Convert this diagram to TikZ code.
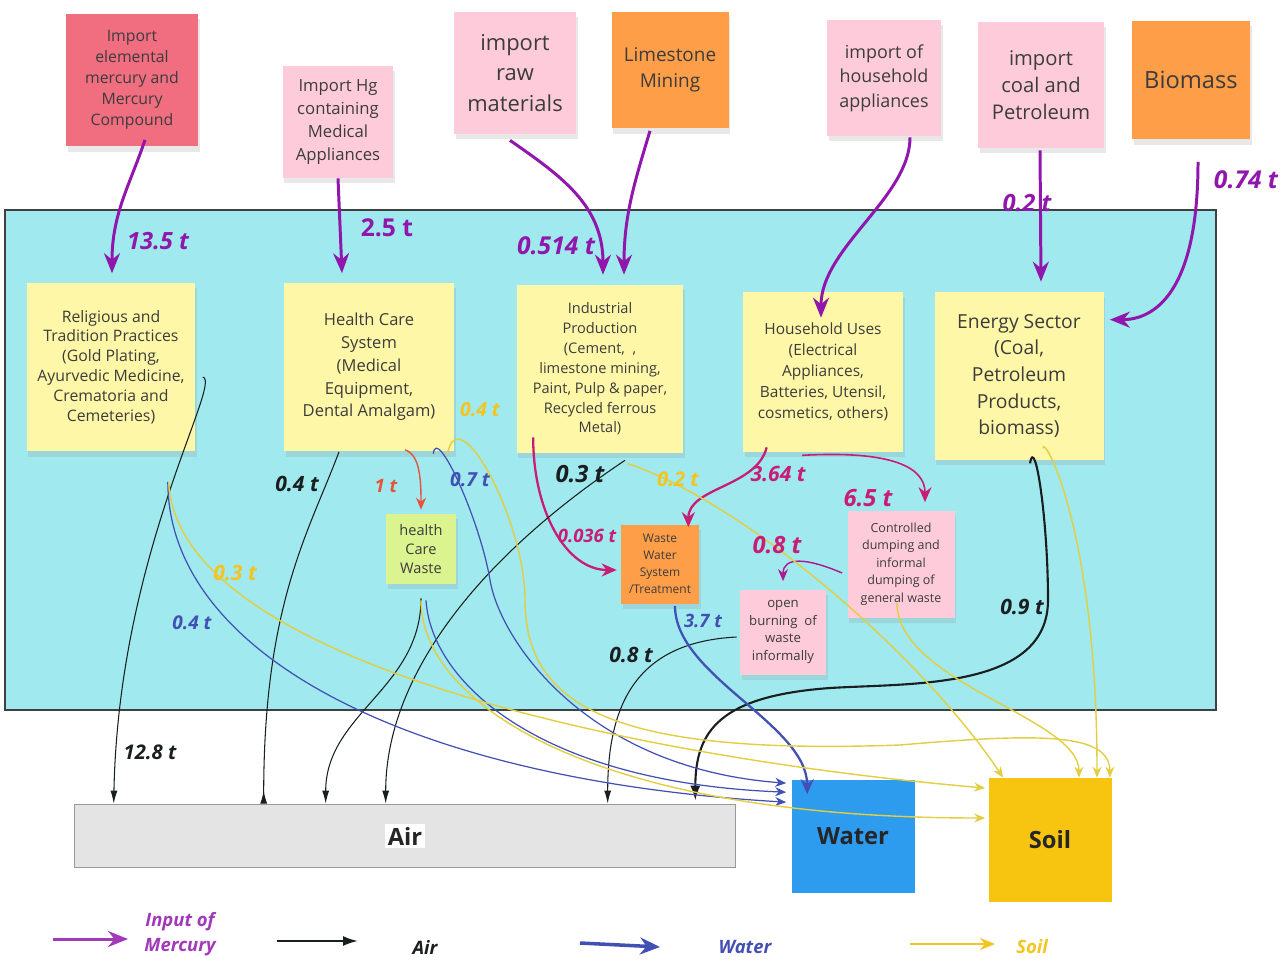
\documentclass[tikz,border=0pt]{standalone}
\usepackage{fontspec}
\setmainfont{Open Sans}
\usepackage{tikz}
\usetikzlibrary{arrows.meta,calc,shadows}

\definecolor{basin}{RGB}{160,233,238}
\definecolor{noteyellow}{RGB}{255,247,168}
\definecolor{notepink}{RGB}{254,203,218}
\definecolor{notered}{RGB}{240,110,128}
\definecolor{noteorange}{RGB}{255,158,72}
\definecolor{notelime}{RGB}{220,244,144}
\definecolor{airgray}{RGB}{228,228,228}
\definecolor{waterblue}{RGB}{45,155,238}
\definecolor{soilgold}{RGB}{247,196,16}
\definecolor{hgpurple}{RGB}{145,22,172}
\definecolor{hgmagenta}{RGB}{200,28,118}
\definecolor{hgred}{RGB}{228,84,60}
\definecolor{airblack}{RGB}{25,30,30}
\definecolor{flowblue}{RGB}{66,80,180}
\definecolor{flowyellow}{RGB}{226,206,64}
\definecolor{labelgold}{RGB}{245,196,30}
\definecolor{inktext}{RGB}{60,60,60}

\newcommand\setfs[2]{\fontsize{#1}{#2}\selectfont}

\begin{document}
\begin{tikzpicture}[
    x=0.02cm, y=-0.02cm,
    note/.style={rectangle, align=center, inner sep=2pt, text=inktext, drop shadow={shadow xshift=1pt, shadow yshift=-3pt, opacity=0.18}},
    src/.style={note, fill=notepink},
    sector/.style={note, fill=noteyellow, minimum width=3.38cm, minimum height=3.38cm},
    sink/.style={rectangle, font=\bfseries\setfs{13.5}{16}, text=black!85},
    qty/.style={font=\bfseries\itshape\setfs{12}{14}},
    legend/.style={font=\bfseries\itshape\setfs{10.5}{14}, align=center},
    hgin/.style={-{Stealth[length=4mm,width=3.2mm]}, line width=1.7pt, draw=hgpurple},
    hgmid/.style={-{Stealth[length=3mm,width=2.6mm]}, line width=1.3pt, draw=hgmagenta},
    toair/.style={-{Latex[length=2.6mm,width=1.4mm]}, line width=0.6pt, draw=airblack},
    towater/.style={-{Stealth[length=2.2mm,width=1.8mm]}, line width=0.7pt, draw=flowblue},
    tosoil/.style={-{Stealth[length=2.2mm,width=1.8mm]}, line width=0.8pt, draw=flowyellow}
]
    \useasboundingbox (0,0) rectangle (1287,967);

    \node [rectangle, fill=basin, draw=black!75, line width=1pt, minimum width=24.22cm, minimum height=10cm] (basin) at (610.5,460) {};

    % sources
    \node [note, fill=notered, minimum width=2.64cm, minimum height=2.66cm, font=\setfs{9}{11.9}] (imphg) at (132,80) {Import\\elemental\\mercury and\\Mercury\\Compound};
    \node [src, minimum width=2.22cm, minimum height=2.24cm, font=\setfs{9.5}{13}] (impmed) at (338,122) {Import Hg\\containing\\Medical\\Appliances};
    \node [src, minimum width=2.44cm, minimum height=2.44cm, font=\setfs{12.5}{17.6}] (impraw) at (515,73) {import\\raw\\materials};
    \node [note, fill=noteorange, minimum width=2.34cm, minimum height=2.34cm, font=\setfs{10.8}{14.7}] (lime) at (670,70) {Limestone\\Mining};
    \node [src, minimum width=2.28cm, minimum height=2.32cm, font=\setfs{10.2}{14}] (imphh) at (884,78) {import of\\household\\appliances};
    \node [src, minimum width=2.52cm, minimum height=2.52cm, font=\setfs{11.5}{15.3}] (impcoal) at (1041,85) {import\\coal and\\Petroleum};
    \node [note, fill=noteorange, minimum width=2.36cm, minimum height=2.38cm, font=\setfs{13.5}{17}] (bio) at (1191,80) {Biomass};

    % sectors
    \node [sector, font=\setfs{9}{11.3}] (rel) at (111,367) {Religious and\\Tradition Practices\\(Gold Plating,\\Ayurvedic Medicine,\\Crematoria and\\Cemeteries)};
    \node [sector, minimum width=3.4cm, font=\setfs{9.4}{13}] (hc) at (369,367) {Health Care\\System\\(Medical\\Equipment,\\Dental Amalgam)};
    \node [sector, minimum width=3.34cm, minimum height=3.36cm, font=\setfs{8.3}{11.3}] (ind) at (600,369) {Industrial\\Production\\(Cement,~ ,\\limestone mining,\\Paint, Pulp \& paper,\\Recycled ferrous\\Metal)};
    \node [sector, minimum width=3.2cm, minimum height=3.2cm, font=\setfs{8.8}{11.9}] (hh) at (823,372) {Household Uses\\(Electrical\\Appliances,\\Batteries, Utensil,\\cosmetics, others)};
    \node [sector, minimum height=3.36cm, font=\setfs{11}{15.2}] (en) at (1019,376) {Energy Sector\\(Coal,\\Petroleum\\Products,\\biomass)};

    % waste
    \node [note, fill=notelime, minimum width=1.4cm, minimum height=1.4cm, font=\setfs{8.3}{11}] (hcw) at (421,549) {health\\Care\\Waste};
    \node [note, fill=noteorange, minimum width=1.56cm, minimum height=1.58cm, font=\setfs{6.8}{9.6}] (ww) at (660,564) {Waste\\Water\\System\\/Treatment};
    \node [src, minimum width=1.72cm, minimum height=1.7cm, font=\setfs{7.5}{10.2}] (ob) at (783,632) {open\\burning~ of\\waste\\informally};
    \node [src, minimum width=2.14cm, minimum height=2.14cm, font=\setfs{7.1}{9.9}] (cd) at (901,564) {Controlled\\dumping and\\informal\\dumping of\\general waste};

    % sinks
    \node [sink, fill=airgray, draw=black!40, line width=1pt, minimum width=13.22cm, minimum height=1.26cm] (air) at (405,836) {\setlength\fboxsep{1.5pt}\colorbox{white}{Air}};
    \node [sink, fill=waterblue, minimum width=2.46cm, minimum height=2.26cm] (water) at (853,836) {Water};
    \node [sink, fill=soilgold, minimum width=2.46cm, minimum height=2.48cm] (soil) at (1050,840) {Soil};

    % inputs of mercury
    \draw [hgin] ($(imphg.south)+(13,-7)$) .. controls +(-15,45) and +(0,-60) .. ($(rel.north)+(1,-9)$);
    \draw [hgin] (impmed.south) -- ($(hc.north)+(-27,-9)$);
    \draw [hgin] ($(impraw.south)+(-5,6)$) .. controls +(50,35) and +(0,-70) .. ($(ind.north)+(3,-10)$);
    \draw [hgin] ($(lime.south)+(-20,2)$) .. controls +(-15,50) and +(0,-60) .. ($(ind.north)+(24,-10)$);
    \draw [hgin] ($(imphh.south)+(26,1)$) .. controls +(0,60) and +(0,-70) .. ($(hh.north)+(-2,26)$);
    \draw [hgin] ($(impcoal.south)+(-1,2)$) -- ($(en.north)+(22,-10)$);
    \draw [hgin] ($(bio.south)+(7,22)$) .. controls +(0,130) and +(45,0) .. ($(en.north east)+(6,28)$);

    % transfers
    \draw [hgmid] ($(ind.south west)+(17,-16)$) .. controls +(0,75) and +(-50,0) .. ($(ww.west)+(-4,6)$);
    \draw [hgmid] ($(hh.south west)+(24,-5)$) .. controls +(-10,40) and +(0,-40) .. ($(ww.north east)+(-11,3)$);
    \draw [hgmid, line width=0.9pt] ($(hh.south)+(-21,3)$) .. controls +(90,-5) and +(0,-35) .. ($(cd.north)+(24,-8)$);
    \draw [hgmid, line width=0.8pt, draw=hgpurple!50!hgmagenta, -{Stealth[length=2.4mm,width=2mm]}] ($(cd.west)+(-5,9)$) .. controls +(-35,-15) and +(0,-25) .. ($(ob.north)+(0,-8)$);
    \draw [-{Stealth[length=2.4mm,width=2mm]}, line width=0.8pt, draw=hgred] ($(hc.south)+(36,-2)$) .. controls +(15,5) and +(0,-30) .. ($(hcw.north)+(0,-4)$);

    % to air
    \draw [toair] ($(rel.east)+(7,10)$) .. controls +(20,5) and +(5,-250) .. ($(air.north west)+(40,0)$);
    \draw [toair, -{Latex[length=2.6mm,width=1.4mm,reversed]}] ($(hc.south)+(-30,0)$) .. controls +(-30,80) and +(0,-200) .. ($(air.north west)+(190,0)$);
    \draw [toair] ($(hcw.south)+(0,14)$) .. controls +(0,90) and +(0,-90) .. ($(air.north west)+(252,0)$);
    \draw [toair] ($(ind.south)+(25,7)$) .. controls +(-150,100) and +(0,-125) .. ($(air.north west)+(312,0)$);
    \draw [toair] ($(ob.west)+(-3,5)$) .. controls +(-100,5) and +(0,-100) .. ($(air.north west)+(534,0)$);
    \draw [toair, line width=1.2pt, -{Latex[length=3mm,width=2mm]}] ($(en.south)+(11,3)$) .. controls +(5,-30) and +(0,-80) .. (1048,600) .. controls +(0,90) and +(80,-5) .. (830,688) .. controls +(-110,8) and +(0,-70) .. ($(air.north east)+(-41,-3)$);

    % to water
    \draw [towater] ($(rel.south east)+(-28,30)$) .. controls +(0,168) and +(-387,-23) .. ($(water.north west)+(-5,23)$);
    \draw [towater] ($(hc.south east)+(-21,2)$) .. controls +(3,-30) and +(-10,-60) .. (490,580) .. controls +(10,60) and +(-200,-15) .. ($(water.north west)+(-5,4)$);
    \draw [towater] ($(hcw.south)+(5,16)$) .. controls +(5,80) and +(-250,-10) .. ($(water.north west)+(-5,13)$);
    \draw [towater, line width=1.3pt, -{Stealth[length=3mm,width=2.6mm]}] ($(ww.south)+(15,2)$) .. controls +(0,70) and +(0,-70) .. ($(water.north west)+(16,15)$);

    % to soil
    \draw [tosoil] ($(rel.south east)+(-27,30)$) .. controls +(7,180) and +(-350,-30) .. ($(soil.west)+(-3,-52)$);
    \draw [tosoil] ($(hc.south east)+(-7,3)$) .. controls +(10,-60) and +(0,-80) .. (525,600) .. controls +(0,110) and +(-280,10) .. (900,745) .. controls +(140,-12) and +(0,-45) .. ($(soil.north east)+(-2,0)$);
    \draw [tosoil] ($(hcw.south)+(0,16)$) .. controls +(0,100) and +(-400,0) .. ($(soil.west)+(-3,-22)$);
    \draw [tosoil] ($(ind.south)+(27,10)$) .. controls +(120,40) and +(-80,-120) .. ($(soil.north west)+(15,0)$);
    \draw [tosoil] ($(cd.south)+(-4,-15)$) .. controls +(0,80) and +(0,-60) .. ($(soil.north)+(29,0)$);
    \draw [tosoil] ($(en.south)+(24,-12)$) .. controls +(0,-15) and +(0,-250) .. ($(soil.north)+(47,0)$);

    % quantities
    \node [qty, text=hgpurple, font=\bfseries\itshape\setfs{13.5}{15}] (q1) at (158,241) {13.5 t};
    \node [qty, text=hgpurple, font=\bfseries\setfs{14}{16}] (q2) at (387,228) {2.5 t};
    \node [qty, text=hgpurple, font=\bfseries\itshape\setfs{14}{16}] (q3) at (556,246) {0.514 t};
    \node [qty, text=hgpurple, font=\bfseries\itshape\setfs{13.5}{15}] (q4) at (1027,203) {0.2 t};
    \node [qty, text=hgpurple, font=\bfseries\itshape\setfs{14}{16}] (q5) at (1246,180) {0.74 t};
    \node [qty, text=hgmagenta, font=\bfseries\itshape\setfs{10.5}{12}] (q6) at (587,536) {0.036 t};
    \node [qty, text=hgmagenta] (q7) at (778,474) {3.64 t};
    \node [qty, text=hgmagenta, font=\bfseries\itshape\setfs{13.5}{15}] (q8) at (868,498) {6.5 t};
    \node [qty, text=hgmagenta, font=\bfseries\itshape\setfs{13.5}{15}] (q9) at (777,545) {0.8 t};
    \node [qty, text=hgred, font=\bfseries\itshape\setfs{10.5}{12}] (q10) at (386,486) {1 t};
    \node [qty, text=airblack, font=\bfseries\itshape\setfs{11.5}{13}] (q11) at (150,752) {12.8 t};
    \node [qty, text=airblack] (q12) at (297,484) {0.4 t};
    \node [qty, text=airblack, font=\bfseries\itshape\setfs{13.5}{15}] (q13) at (580,474) {0.3 t};
    \node [qty, text=airblack] (q14) at (631,655) {0.8 t};
    \node [qty, text=airblack] (q15) at (1022,607) {0.9 t};
    \node [qty, text=flowblue, font=\bfseries\itshape\setfs{10.8}{12}] (q16) at (192,623) {0.4 t};
    \node [qty, text=flowblue, font=\bfseries\itshape\setfs{11}{12}] (q17) at (470,480) {0.7 t};
    \node [qty, text=flowblue, font=\bfseries\itshape\setfs{10.5}{12}] (q18) at (703,621) {3.7 t};
    \node [qty, text=labelgold] (q19) at (235,573) {0.3 t};
    \node [qty, text=labelgold, font=\bfseries\itshape\setfs{11}{12}] (q20) at (480,410) {0.4 t};
    \node [qty, text=labelgold, font=\bfseries\itshape\setfs{11.5}{13}] (q21) at (678,479) {0.2 t};

    % legend
    \coordinate (k1a) at (53,939);
    \coordinate (k1b) at (128,939);
    \coordinate (k2a) at (277,941);
    \coordinate (k2b) at (358,941);
    \coordinate (k3a) at (580,943);
    \coordinate (k3b) at (660,947);
    \coordinate (k4a) at (910,944);
    \coordinate (k4b) at (995,944);
    \draw [hgin, draw=hgpurple!85!white] (k1a) -- (k1b);
    \draw [toair, line width=1.2pt, -{Latex[length=3mm,width=2mm]}] (k2a) -- (k2b);
    \draw [towater, line width=2pt, -{Stealth[length=4mm,width=3.4mm]}] (k3a) -- (k3b);
    \draw [tosoil, line width=1.3pt, draw=labelgold, -{Stealth[length=3mm,width=2.4mm]}] (k4a) -- (k4b);
    \node [legend, text=hgpurple!85!white] (k1) at (180,934) {Input of\\Mercury};
    \node [legend, text=airblack] (k2) at (425,947) {Air};
    \node [legend, text=flowblue] (k3) at (745,947) {Water};
    \node [legend, text=labelgold] (k4) at (1032,947) {Soil};
\end{tikzpicture}
\end{document}
